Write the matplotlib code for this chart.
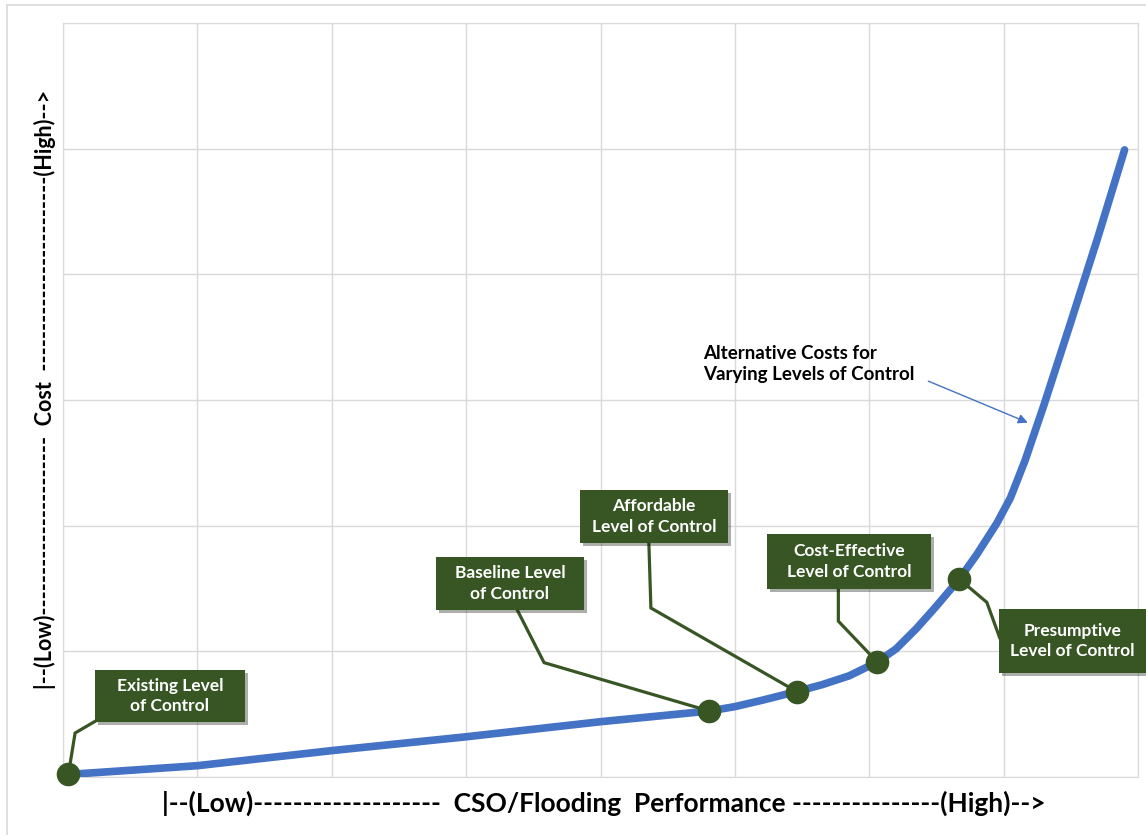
import matplotlib
matplotlib.use('Agg')
import matplotlib.pyplot as plt
import matplotlib.patheffects as pe
from matplotlib.patches import Rectangle
from matplotlib.lines import Line2D

plt.rcParams['font.family'] = ['Lato', 'DejaVu Sans']
plt.rcParams['font.weight'] = 'bold'

# cost curve (performance, cost)
perf = [0.04, 1.0, 2.0, 3.0, 4.0, 4.81, 5.0, 5.2, 5.46, 5.65, 5.85, 6.06, 6.2, 6.35, 6.5, 6.67,
        6.8, 6.95, 7.05, 7.16, 7.3, 7.5, 7.7, 7.9]
cost = [0.02, 0.09, 0.21, 0.32, 0.44, 0.525, 0.56, 0.61, 0.68, 0.735, 0.805, 0.915, 1.02, 1.18, 1.36, 1.575,
        1.77, 2.02, 2.22, 2.52, 2.96, 3.62, 4.29, 4.99]

# levels of control marked on the curve
levels = ['Existing Level\nof Control', 'Baseline Level\nof Control', 'Affordable\nLevel of Control',
          'Cost-Effective\nLevel of Control', 'Presumptive\nLevel of Control']
level_perf = [0.04, 4.81, 5.46, 6.06, 6.67]
level_cost = [0.02, 0.525, 0.68, 0.915, 1.575]

# label boxes (x0, x1, y0, y1) and leader line points (box side, elbow)
boxes = [(0.238, 1.354, 0.438, 0.851),
         (2.775, 3.876, 1.329, 1.750),
         (3.847, 4.948, 1.862, 2.283),
         (5.238, 6.458, 1.496, 1.933),
         (6.964, 8.058, 0.827, 1.337)]
leaders = [[(0.25, 0.45), (0.09, 0.35)],
           [(3.38, 1.33), (3.58, 0.91)],
           [(4.36, 1.86), (4.375, 1.345)],
           [(5.77, 1.50), (5.77, 1.24)],
           [(6.97, 1.11), (6.875, 1.39)]]

green = '#375623'
blue = '#4472C4'
grid = '#d9d9d9'

fig = plt.figure(figsize=(11.46, 8.35), dpi=100)
ax = fig.add_axes([63/1146, 1-777/835, (1138-63)/1146, (777-23)/835])
ax.set_xlim(0, 8)
ax.set_ylim(0, 6)
ax.set_xticks(range(9))
ax.set_yticks(range(7))
ax.grid(True, color=grid, linewidth=1)
ax.tick_params(length=0, labelbottom=False, labelleft=False)
for s in ax.spines.values():
    s.set_color(grid)

ax.plot(perf, cost, color=blue, linewidth=5.5, solid_capstyle='round', solid_joinstyle='round', zorder=3)

for i in range(len(levels)):
    (bx, by), (ex, ey) = leaders[i]
    ax.plot([bx, ex, level_perf[i]], [by, ey, level_cost[i]], color=green, linewidth=2.3, zorder=4,
            solid_joinstyle='miter', clip_on=False)
    x0, x1, y0, y1 = boxes[i]
    r = Rectangle((x0, y0), x1 - x0, y1 - y0, facecolor=green, edgecolor='none', zorder=5, clip_on=False)
    r.set_path_effects([pe.SimplePatchShadow(offset=(2, -2), alpha=0.35), pe.Normal()])
    ax.add_patch(r)
    ax.text((x0 + x1) / 2, (y0 + y1) / 2, levels[i], color='white', fontsize=12.5, fontweight='bold',
            ha='center', va='center', linespacing=1.35, zorder=6)

ax.plot(level_perf, level_cost, 'o', color=green, markersize=16, zorder=7, clip_on=False)

ax.text(4.76, 3.44, 'Alternative Costs for\nVarying Levels of Control', ha='left', va='top',
        fontsize=13.5, fontweight='bold', color='black', linespacing=1.3)
ax.annotate('', xy=(7.18, 2.82), xytext=(6.44, 3.15),
            arrowprops=dict(arrowstyle='-|>', color=blue, lw=1, mutation_scale=14, shrinkA=0, shrinkB=0))

fig.text(0.527, 1-803/835, '|--(Low)-------------------  CSO/Flooding  Performance ---------------(High)-->',
         ha='center', va='center', fontsize=19, fontweight='bold')
fig.text(45/1146, 1-389/835, '|--(Low)----------------------  Cost  ------------------------(High)-->',
         ha='center', va='center', rotation=90, fontsize=15.5, fontweight='bold')

# outer chart border
fig.add_artist(Line2D([7/1146, 7/1146], [0, 1-5/835], color=grid, linewidth=1.2))
fig.add_artist(Line2D([7/1146, 1], [1-5/835, 1-5/835], color=grid, linewidth=1.2))

fig.savefig('out.png', dpi=100)
